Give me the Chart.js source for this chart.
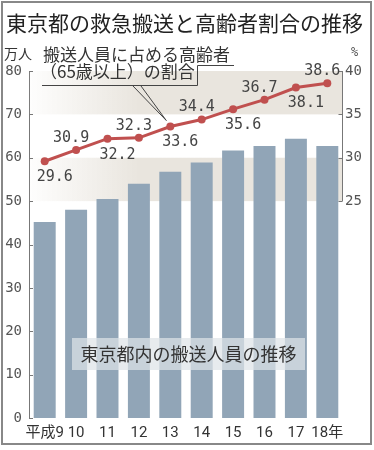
<!DOCTYPE html>
<html><head><meta charset="utf-8">
<script src="https://cdn.jsdelivr.net/npm/chart.js@4"></script>
<style>html,body{margin:0;padding:0;background:#fff;}</style>
</head><body>
<canvas id="c" width="374" height="450"></canvas>
<script>
const categories = ['平成9','10','11','12','13','14','15','16','17','18年'];
const transportPeople = [45.2, 48.0, 50.5, 54.0, 56.8, 58.9, 61.7, 62.7, 64.4, 62.7];
const elderlyShare = [29.6, 30.9, 32.2, 32.3, 33.6, 34.4, 35.6, 36.7, 38.1, 38.6];
const labelSide = ['below','above','below','above','below','above','below','above','below','above'];
const leftTicks = [0,10,20,30,40,50,60,70,80];
const rightTicks = [25,30,35,40];
const bands = [[25,30],[35,40]];

const CJK = '"Noto Sans CJK JP", "Noto Sans", sans-serif';
const MONO = '"DejaVu Sans Mono", "Liberation Mono", monospace';

const deco = {
  id: 'deco',
  beforeDatasetsDraw(chart) {
    const ctx = chart.ctx, ca = chart.chartArea, y2 = chart.scales.y2;
    ctx.save();
    bands.forEach(([a, b]) => {
      const top = y2.getPixelForValue(b), bot = y2.getPixelForValue(a);
      const g = ctx.createLinearGradient(ca.left, 0, ca.left + 110, 0);
      g.addColorStop(0, 'rgba(233,229,222,0.05)');
      g.addColorStop(1, 'rgba(233,229,222,1)');
      ctx.fillStyle = g;
      ctx.fillRect(ca.left, top, ca.right - ca.left, bot - top);
    });
    ctx.restore();
  },
  afterDraw(chart) {
    const ctx = chart.ctx, ca = chart.chartArea;
    const y = chart.scales.y, y2 = chart.scales.y2;
    ctx.save();
    ctx.strokeStyle = '#777'; ctx.lineWidth = 1;
    ctx.beginPath();
    leftTicks.forEach(v => { const p = Math.round(y.getPixelForValue(v)) + 0.5; ctx.moveTo(ca.left, p); ctx.lineTo(ca.left + 4, p); });
    const rx = Math.round(ca.right) - 0.5;
    ctx.moveTo(rx, y2.getPixelForValue(rightTicks[0])); ctx.lineTo(rx, y2.getPixelForValue(rightTicks[rightTicks.length-1]));
    rightTicks.forEach(v => { const p = Math.round(y2.getPixelForValue(v)) + 0.5; ctx.moveTo(rx, p); ctx.lineTo(rx - 4, p); });
    ctx.stroke();

    ctx.fillStyle = 'rgba(222,227,232,0.72)';
    ctx.fillRect(72, 338, 233, 32);
    ctx.fillStyle = '#333';
    ctx.font = '18px ' + CJK; ctx.textAlign = 'center'; ctx.textBaseline = 'middle';
    ctx.fillText('東京都内の搬送人員の推移', 188.5, 354);

    const meta = chart.getDatasetMeta(0);
    ctx.font = '15px ' + MONO; ctx.fillStyle = '#444';
    meta.data.forEach((pt, i) => {
      const txt = elderlyShare[i].toFixed(1);
      if (labelSide[i] === 'below') ctx.fillText(txt, pt.x + 10, pt.y + 16);
      else ctx.fillText(txt, pt.x - 5, pt.y - 12);
    });

    ctx.fillStyle = '#222'; ctx.textAlign = 'left';
    ctx.font = '21px ' + CJK;
    ctx.fillText('東京都の救急搬送と高齢者割合の推移', 6, 23);
    ctx.font = '14px ' + CJK; ctx.fillStyle = '#333';
    ctx.fillText('万人', 4, 54);
    ctx.font = '12px ' + MONO; ctx.fillStyle = '#555';
    ctx.fillText('%', 351, 53);
    ctx.font = '17px ' + CJK; ctx.fillStyle = '#333';
    ctx.fillText('搬送人員に占める高齢者', 43, 55);
    ctx.fillText('（65歳以上）の割合', 40, 72);

    ctx.strokeStyle = '#444'; ctx.lineWidth = 1;
    ctx.beginPath();
    ctx.moveTo(234, 65.5); ctx.lineTo(197.5, 65.5); ctx.lineTo(197.5, 85.5); ctx.lineTo(42, 85.5);
    const p5 = meta.data[4];
    ctx.moveTo(133, 86); ctx.lineTo(p5.x - 4, p5.y - 6);
    ctx.moveTo(141, 86); ctx.lineTo(p5.x - 4, p5.y - 6);
    ctx.stroke();

    ctx.strokeStyle = '#888'; ctx.lineWidth = 2;
    ctx.strokeRect(2, 2, 369, 442);
    ctx.restore();
  }
};

new Chart(document.getElementById('c'), {
  data: {
    labels: categories,
    datasets: [
      { type: 'line', data: elderlyShare, yAxisID: 'y2', order: 0,
        borderColor: '#c0504f', backgroundColor: '#c0504f', borderWidth: 3,
        pointRadius: 4, pointBackgroundColor: '#c0504f', pointBorderWidth: 0, tension: 0 },
      { type: 'bar', data: transportPeople, yAxisID: 'y', order: 1,
        backgroundColor: '#91a5b7', barPercentage: 0.7, categoryPercentage: 1 }
    ]
  },
  options: {
    responsive: false, animation: false,
    layout: { padding: { top: 71, left: 0, right: 0, bottom: 0 } },
    plugins: { legend: { display: false }, tooltip: { enabled: false }, title: { display: false } },
    scales: {
      x: { type: 'category', offset: true,
        grid: { display: false, drawTicks: false }, border: { display: false },
        ticks: { font: { family: 'Roboto, ' + CJK, size: 15 }, color: '#333', padding: 6, maxRotation: 0, autoSkip: false },
        afterFit(s) { s.height = 32; } },
      y: { position: 'left', min: 0, max: 80,
        grid: { display: false, drawTicks: false }, border: { display: true, color: '#777', width: 1 },
        ticks: { stepSize: 10, font: { family: MONO, size: 14 }, color: '#555', padding: 7 },
        afterFit(s) { s.width = 29; } },
      y2: { position: 'right', min: 0, max: 40,
        grid: { display: false, drawTicks: false }, border: { display: false },
        ticks: { stepSize: 5, font: { family: MONO, size: 14 }, color: '#555', padding: 2,
          callback: v => rightTicks.includes(v) ? String(v) : '' },
        afterFit(s) { s.width = 31; } }
    }
  },
  plugins: [deco]
});
</script>
</body></html>
